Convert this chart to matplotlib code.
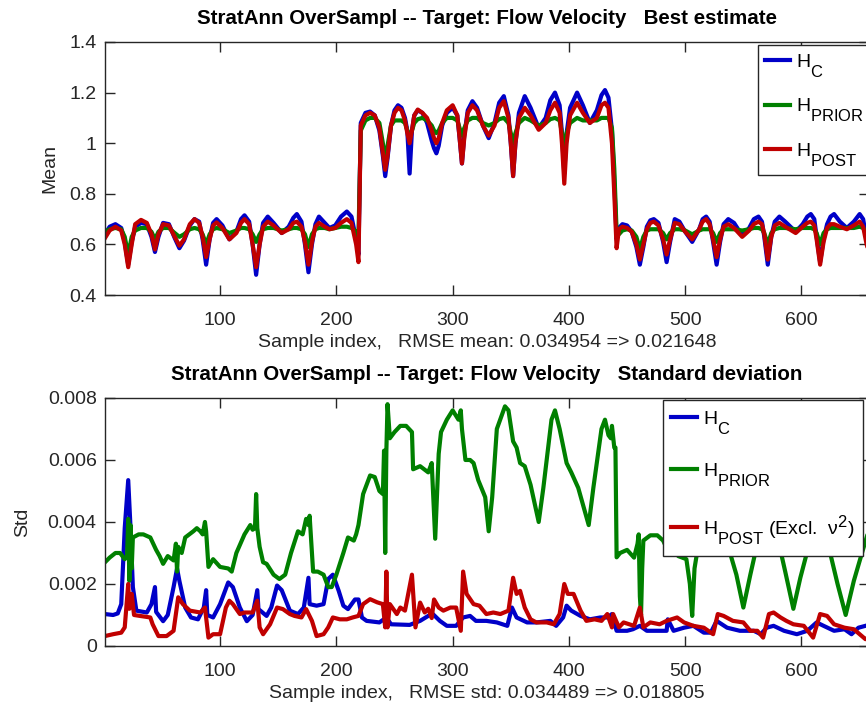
import numpy as np
import matplotlib
matplotlib.use("Agg")
import matplotlib.pyplot as plt
import matplotlib._mathtext as mtext

plt.rcParams['font.family'] = ['Liberation Sans', 'DejaVu Sans']
plt.rcParams['mathtext.fontset'] = 'custom'
plt.rcParams['mathtext.rm'] = 'Liberation Sans'
# larger, lower subscripts for the legend labels
mtext.SHRINK_FACTOR = 0.85
mtext.FontConstantsBase.sub1 = 1.0
mtext.FontConstantsBase.sub2 = 1.2

# ---- mean estimates (top panel) ----
idx_mean = [1, 5, 10, 15, 18, 21, 24, 27, 32, 37, 41, 44, 47, 51, 56, 61, 65, 69, 74, 78,
            82, 85, 88, 91, 94, 97, 102, 108, 114, 118, 121, 125, 128, 131, 134, 137, 141, 146, 153, 159,
            163, 166, 170, 173, 176, 179, 182, 185, 190, 194, 199, 204, 209, 213, 217, 219,
            221, 225, 229, 233, 237, 240, 242, 244, 247, 250, 253, 256, 259, 261, 263, 265, 267, 270,
            274, 278, 282, 284, 286, 288, 291, 295, 300, 304, 306, 308, 310, 313, 317, 321, 326, 331,
            336, 340, 344, 348, 350, 352, 354, 357, 362, 367, 374, 380, 384, 388, 392, 394, 396, 398,
            401, 407, 412, 418, 424, 428, 431, 434, 437, 439, 441,
            443, 446, 450, 454, 458, 461, 464, 467, 470, 473, 477, 481, 484, 487, 491, 495, 500, 506,
            512, 515, 518, 521, 524, 527, 530, 533, 537, 542, 549, 555, 559, 563, 566, 568, 571, 574,
            577, 581, 586, 595, 601, 605, 608, 611, 613, 616, 619, 622, 625, 628, 633, 639, 645, 650,
            653, 656, 660]

mean_c = [0.64, 0.67, 0.68, 0.665, 0.61, 0.52, 0.61, 0.67, 0.685, 0.68, 0.63, 0.57, 0.63, 0.685, 0.68, 0.625, 0.585, 0.615, 0.675, 0.70,
          0.69, 0.62, 0.52, 0.62, 0.685, 0.70, 0.675, 0.62, 0.65, 0.70, 0.715, 0.69, 0.60, 0.48, 0.60, 0.685, 0.71, 0.685, 0.645, 0.67,
          0.705, 0.72, 0.69, 0.60, 0.49, 0.60, 0.68, 0.71, 0.685, 0.665, 0.675, 0.71, 0.73, 0.71, 0.62, 0.56,
          1.08, 1.12, 1.125, 1.11, 1.05, 0.95, 0.87, 0.94, 1.07, 1.13, 1.15, 1.14, 1.10, 1.05, 0.88, 1.05, 1.11, 1.13,
          1.12, 1.08, 1.01, 0.98, 0.96, 0.99, 1.07, 1.12, 1.14, 1.11, 1.02, 0.92, 1.03, 1.13, 1.166, 1.14, 1.07, 1.02,
          1.08, 1.16, 1.186, 1.11, 1.00, 0.87, 1.00, 1.12, 1.186, 1.14, 1.06, 1.10, 1.17, 1.20, 1.15, 1.04, 0.88, 1.04,
          1.14, 1.20, 1.15, 1.08, 1.13, 1.19, 1.21, 1.18, 1.05, 0.85, 0.62,
          0.665, 0.68, 0.675, 0.65, 0.59, 0.52, 0.59, 0.67, 0.695, 0.70, 0.685, 0.61, 0.53, 0.61, 0.70, 0.69, 0.65, 0.61,
          0.66, 0.70, 0.71, 0.69, 0.61, 0.52, 0.61, 0.68, 0.70, 0.685, 0.635, 0.665, 0.70, 0.71, 0.69, 0.63, 0.52, 0.63,
          0.69, 0.71, 0.69, 0.65, 0.68, 0.71, 0.72, 0.70, 0.63, 0.53, 0.62, 0.68, 0.71, 0.72, 0.69, 0.665, 0.69, 0.72,
          0.70, 0.62, 0.55]

mean_prior = [0.65, 0.66, 0.665, 0.66, 0.63, 0.56, 0.63, 0.655, 0.665, 0.665, 0.65, 0.62, 0.65, 0.665, 0.665, 0.645, 0.63, 0.64, 0.66, 0.665,
              0.66, 0.64, 0.60, 0.64, 0.66, 0.665, 0.66, 0.645, 0.655, 0.665, 0.665, 0.66, 0.64, 0.61, 0.64, 0.66, 0.665, 0.665, 0.655, 0.66,
              0.665, 0.665, 0.66, 0.64, 0.59, 0.64, 0.66, 0.665, 0.665, 0.66, 0.665, 0.67, 0.67, 0.665, 0.65, 0.63,
              1.05, 1.09, 1.10, 1.10, 1.08, 1.00, 0.93, 0.99, 1.07, 1.09, 1.09, 1.09, 1.08, 1.05, 1.03, 1.05, 1.08, 1.095,
              1.10, 1.09, 1.07, 1.05, 1.04, 1.05, 1.08, 1.10, 1.10, 1.09, 1.06, 1.03, 1.06, 1.09, 1.10, 1.10, 1.08, 1.07,
              1.08, 1.095, 1.10, 1.08, 1.04, 1.00, 1.04, 1.08, 1.10, 1.09, 1.07, 1.08, 1.095, 1.10, 1.09, 1.04, 0.98, 1.04,
              1.08, 1.10, 1.09, 1.09, 1.09, 1.10, 1.10, 1.10, 1.06, 0.90, 0.65,
              0.64, 0.655, 0.66, 0.655, 0.63, 0.58, 0.63, 0.655, 0.66, 0.66, 0.66, 0.645, 0.62, 0.645, 0.66, 0.66, 0.655, 0.64,
              0.655, 0.66, 0.66, 0.66, 0.645, 0.61, 0.645, 0.66, 0.66, 0.66, 0.655, 0.66, 0.665, 0.665, 0.66, 0.645, 0.60, 0.645,
              0.66, 0.665, 0.665, 0.66, 0.665, 0.665, 0.665, 0.66, 0.645, 0.60, 0.645, 0.66, 0.665, 0.665, 0.665, 0.665, 0.665, 0.67,
              0.665, 0.64, 0.60]

mean_post = [0.625, 0.655, 0.67, 0.655, 0.60, 0.51, 0.60, 0.68, 0.697, 0.685, 0.64, 0.58, 0.64, 0.68, 0.675, 0.63, 0.595, 0.62, 0.68, 0.70,
             0.685, 0.63, 0.55, 0.62, 0.675, 0.687, 0.665, 0.62, 0.645, 0.685, 0.70, 0.68, 0.60, 0.51, 0.60, 0.67, 0.69, 0.675, 0.645, 0.66,
             0.685, 0.69, 0.67, 0.61, 0.52, 0.61, 0.67, 0.685, 0.67, 0.66, 0.665, 0.685, 0.70, 0.685, 0.60, 0.53,
             1.07, 1.11, 1.12, 1.11, 1.06, 0.96, 0.895, 0.95, 1.07, 1.12, 1.14, 1.13, 1.09, 1.04, 1.00, 1.05, 1.11, 1.133,
             1.12, 1.10, 1.05, 1.02, 1.00, 1.02, 1.08, 1.13, 1.15, 1.11, 1.02, 0.92, 1.02, 1.12, 1.15, 1.13, 1.07, 1.03,
             1.07, 1.14, 1.166, 1.10, 1.00, 0.87, 1.00, 1.10, 1.14, 1.11, 1.053, 1.08, 1.13, 1.16, 1.12, 1.00, 0.84, 1.00,
             1.11, 1.16, 1.12, 1.08, 1.10, 1.15, 1.16, 1.14, 1.00, 0.80, 0.585,
             0.66, 0.67, 0.665, 0.65, 0.60, 0.54, 0.60, 0.66, 0.685, 0.69, 0.675, 0.62, 0.56, 0.62, 0.685, 0.68, 0.65, 0.62,
             0.66, 0.69, 0.70, 0.68, 0.62, 0.55, 0.62, 0.67, 0.68, 0.665, 0.63, 0.655, 0.68, 0.69, 0.68, 0.64, 0.54, 0.63,
             0.675, 0.685, 0.67, 0.645, 0.67, 0.685, 0.69, 0.675, 0.62, 0.52, 0.61, 0.665, 0.68, 0.68, 0.67, 0.66, 0.675, 0.69,
             0.67, 0.60, 0.54]

# ---- standard deviations (bottom panel), values in units of 1e-3 ----
idx_std_c = [1, 8, 12, 15, 18, 21, 23, 25, 28, 37, 41, 44, 45, 51, 55, 60, 63, 65, 70, 75, 81, 86, 88, 89, 94, 100,
             107, 111, 117, 123, 128, 132, 133, 140, 144, 149, 153, 160, 167, 172, 176, 177, 183, 189, 193, 197, 202,
             206, 210, 216, 219, 222, 226, 237, 243, 247, 263, 272, 279, 283, 289, 295, 303, 309, 315, 320, 329, 338,
             347, 351, 355, 364, 372, 384, 389, 395, 398, 402, 410, 418, 427, 433, 437, 441, 450, 455, 461, 467, 484,
             485, 490, 499, 507, 516, 522, 527, 536, 547, 559, 565, 570, 576, 585, 596, 605, 613, 619, 628, 637, 643,
             649, 660]
std_c = [1.03, 1.0, 1.05, 1.35, 3.8, 5.35, 3.8, 1.9, 1.14, 1.08, 1.35, 1.9, 1.1, 0.8, 1.0, 1.9, 2.5, 2.1, 1.24, 0.92, 0.86, 1.24, 1.8, 1.0, 0.92, 1.35,
         2.05, 1.9, 1.24, 0.8, 1.0, 1.8, 1.19, 0.97, 1.24, 1.95, 1.8, 1.14, 1.03, 1.24, 2.2, 1.35, 1.3, 1.35, 2.16, 2.3, 1.78,
         1.3, 1.19, 1.5, 1.5, 0.92, 0.81, 0.76, 0.92, 0.70, 0.68, 0.81, 0.97, 1.03, 0.81, 0.65, 0.65, 0.92, 0.97, 0.81, 0.81, 0.76,
         0.65, 1.24, 0.92, 0.76, 0.76, 0.81, 0.65, 0.92, 1.3, 1.14, 0.97, 0.86, 0.92, 0.92, 1.03, 0.49, 0.49, 0.54, 0.65, 0.49, 0.49,
         0.86, 0.49, 0.59, 0.65, 0.43, 0.43, 0.81, 0.59, 0.49, 0.49, 0.38, 0.59, 0.65, 0.49, 0.38, 0.49, 0.76, 0.65, 0.49, 0.54, 0.38,
         0.59, 0.7]

idx_std_prior = [1, 5, 10, 14, 18, 20, 21, 22, 23, 24, 25, 30, 34, 40, 45, 48, 51, 55, 60, 62, 63, 64, 67, 70, 77, 80,
                 83, 85, 87, 88, 90, 94, 100, 107, 110, 114, 121, 126, 128, 130, 131, 132, 134, 137, 140, 146, 151, 156,
                 161, 167, 171, 174, 176, 177, 179, 180, 184, 189, 193, 196, 200, 206, 210, 215, 217, 219, 223, 229, 233,
                 237, 240, 241, 242, 243, 244, 246, 250, 255, 260, 265, 266, 272, 279, 282, 285, 288, 290, 295, 300, 305,
                 307, 308, 311, 315, 318, 322, 328, 331, 334, 338, 345, 348, 352, 355, 358, 362, 367, 374, 378, 385, 388,
                 392, 398, 402, 408, 417, 421, 428, 431, 434, 436, 437, 439, 440, 441, 444, 450, 456, 459, 460, 461, 462,
                 463, 464, 470, 476, 481, 486, 492, 493, 494, 501, 504, 506, 508, 511, 520, 530, 537, 544, 550, 556, 562,
                 570, 580, 586, 593, 599, 606, 615, 624, 631, 638, 645, 652, 660]
std_prior = [2.7, 2.85, 3.0, 3.0, 2.8, 2.9, 4.1, 2.1, 3.9, 2.5, 3.5, 3.6, 3.6, 3.5, 3.1, 2.9, 2.65, 2.9, 2.76, 3.3, 2.4, 3.2, 3.0, 3.5, 3.7, 3.8,
             3.7, 3.6, 4.0, 3.7, 2.55, 2.8, 2.55, 2.5, 2.4, 3.0, 3.6, 3.9, 3.75, 3.8, 4.9, 3.8, 3.2, 2.7, 2.65, 2.3, 2.16, 2.3,
             3.0, 3.7, 3.6, 4.1, 3.9, 4.2, 3.0, 2.4, 2.4, 2.3, 1.9, 1.9, 2.3, 3.0, 3.5, 3.4, 3.6, 3.9, 4.9, 5.5, 5.45,
             5.0, 4.9, 6.3, 3.0, 6.3, 7.8, 6.7, 6.9, 7.1, 7.1, 6.9, 5.7, 5.8, 5.6, 5.9, 3.46, 6.2, 6.9, 7.3, 7.6, 7.3,
             7.6, 7.0, 6.0, 6.0, 5.9, 5.35, 4.8, 3.7, 4.8, 7.0, 7.73, 7.6, 6.6, 6.4, 5.9, 5.8, 5.2, 4.0, 5.1, 7.3, 7.6,
             7.0, 5.9, 5.6, 5.1, 3.9, 5.1, 7.0, 7.3, 6.8, 6.7, 7.1, 6.4, 6.4, 2.86, 3.0, 3.1, 2.85, 3.3, 3.6, 1.6, 1.0,
             2.5, 3.4, 3.57, 3.57, 3.4, 3.0, 3.1, 3.4, 2.9, 2.8, 2.0, 0.97, 2.5, 3.2, 3.6, 3.4, 3.2, 2.3, 1.24, 2.3, 3.3,
             3.6, 3.4, 2.4, 1.2, 2.2, 3.2, 3.6, 3.1, 2.0, 1.0, 2.1, 3.0, 4.0]

idx_std_post = [1, 8, 15, 18, 21, 22, 24, 26, 31, 40, 42, 47, 54, 60, 64, 68, 74, 83, 87, 90, 94, 100, 105, 108, 111,
                117, 121, 128, 132, 134, 137, 143, 149, 154, 160, 164, 170, 174, 179, 183, 189, 193, 197, 203, 209, 214,
                219, 223, 229, 235, 240, 242, 243, 244, 246, 252, 255, 259, 265, 268, 272, 276, 279, 282, 284, 288, 292,
                298, 303, 307, 309, 312, 318, 323, 329, 335, 341, 348, 352, 355, 358, 362, 367, 372, 381, 387, 392, 396,
                399, 404, 410, 415, 422, 428, 433, 437, 438, 443, 447, 456, 461, 464, 470, 478, 484, 493, 499, 507, 516,
                524, 528, 533, 541, 550, 556, 562, 567, 572, 576, 582, 587, 593, 602, 610, 616, 622, 628, 637, 645, 655,
                660]
std_post = [0.32, 0.38, 0.43, 0.6, 2.0, 1.2, 1.68, 1.0, 0.97, 0.92, 0.7, 0.32, 0.32, 0.49, 1.57, 1.35, 1.14, 1.08, 1.24, 0.27, 0.38, 0.38, 1.24, 1.46, 1.35,
            1.03, 1.08, 1.08, 1.46, 0.6, 0.38, 0.7, 1.24, 1.19, 1.03, 0.97, 0.92, 1.19, 0.81, 0.32, 0.38, 0.6, 0.92, 0.86, 0.86, 0.92,
            0.97, 1.35, 1.51, 1.41, 1.35, 0.6, 2.4, 0.6, 1.35, 1.03, 1.24, 1.14, 2.3, 0.6, 1.4, 1.08, 1.2, 0.9, 1.5, 1.24, 1.14,
            1.24, 1.24, 0.49, 2.4, 1.68, 1.35, 1.30, 1.03, 1.08, 1.03, 1.14, 2.2, 1.68, 1.78, 1.24, 0.86, 0.76, 0.76, 0.70, 1.03, 2.0,
            1.68, 1.68, 1.14, 0.81, 0.86, 0.81, 1.03, 0.6, 1.03, 0.6, 0.76, 0.65, 1.24, 0.6, 0.76, 0.70, 0.81, 0.92, 0.76, 0.65, 0.59,
            0.38, 1.03, 0.97, 0.81, 0.76, 0.49, 0.49, 0.27, 1.03, 1.08, 0.92, 0.81, 0.70, 0.65, 0.27, 1.03, 0.97, 0.70, 0.59, 0.54, 0.22,
            0.3]

mean_yticks = [0.4, 0.6, 0.8, 1.0, 1.2, 1.4]
mean_yticklabels = ['0.4', '0.6', '0.8', '1', '1.2', '1.4']
std_yticks = [0, 0.002, 0.004, 0.006, 0.008]
std_yticklabels = ['0', '0.002', '0.004', '0.006', '0.008']
xticks = [100, 200, 300, 400, 500, 600]

blue = '#0000c8'
green = '#008000'
red = '#c00000'
axcol = '#262626'
fs = 14
lw = 3.0


def style_axes(ax):
    for s in ax.spines.values():
        s.set_color(axcol)
        s.set_linewidth(1.0)
    ax.tick_params(direction='in', top=True, right=True, length=7, width=1.0,
                   colors=axcol, labelsize=fs, labelcolor=axcol)
    ax.tick_params(axis='x', pad=12)
    ax.tick_params(axis='y', pad=6)
    ax.set_xlim(1, 658)
    ax.set_xticks(xticks)


fig = plt.figure(figsize=(8.66, 7.07), dpi=100)

# top panel: best estimate
ax1 = fig.add_axes([0.1212, 0.5827, 0.8822, 0.3579])
ax1.plot(idx_mean, mean_c, color=blue, lw=lw, label=r'$\mathregular{H_{C}}$')
ax1.plot(idx_mean, mean_prior, color=green, lw=lw, label=r'$\mathregular{H_{PRIOR}}$')
ax1.plot(idx_mean, mean_post, color=red, lw=lw, label=r'$\mathregular{H_{POST}}$')
style_axes(ax1)
ax1.set_ylim(0.4, 1.4)
ax1.set_yticks(mean_yticks)
ax1.set_yticklabels(mean_yticklabels)
ax1.set_ylabel('Mean', fontsize=fs, color=axcol, labelpad=8)
ax1.set_xlabel('Sample index,   RMSE mean: 0.034954 => 0.021648', fontsize=fs, color=axcol, labelpad=4)
ax1.set_title('StratAnn OverSampl -- Target: Flow Velocity   Best estimate',
              fontsize=14.8, fontweight='bold', pad=13)
leg1 = ax1.legend(loc='upper left', bbox_to_anchor=(0.855, 0.988), fontsize=fs,
                  handlelength=1.3, handletextpad=0.3, labelspacing=0.9, borderaxespad=0,
                  fancybox=False, framealpha=1, edgecolor=axcol, borderpad=0.35)
leg1.get_frame().set_linewidth(1.0)

# bottom panel: standard deviation
ax2 = fig.add_axes([0.1212, 0.0863, 0.8822, 0.3508])
ax2.plot(idx_std_c, np.array(std_c) * 1e-3, color=blue, lw=lw, label=r'$\mathregular{H_{C}}$')
ax2.plot(idx_std_prior, np.array(std_prior) * 1e-3, color=green, lw=lw, label=r'$\mathregular{H_{PRIOR}}$')
ax2.plot(idx_std_post, np.array(std_post) * 1e-3, color=red, lw=lw,
         label=r'$\mathregular{H_{POST}}$ (Excl.  $\mathregular{ν^2}$)')
style_axes(ax2)
ax2.set_ylim(0, 0.008)
ax2.set_yticks(std_yticks)
ax2.set_yticklabels(std_yticklabels)
ax2.set_ylabel('Std', fontsize=fs, color=axcol, labelpad=12)
ax2.set_xlabel('Sample index,   RMSE std: 0.034489 => 0.018805', fontsize=fs, color=axcol, labelpad=4)
ax2.set_title('StratAnn OverSampl -- Target: Flow Velocity   Standard deviation',
              fontsize=14.8, fontweight='bold', pad=13)
leg2 = ax2.legend(loc='upper left', bbox_to_anchor=(0.730, 0.992), fontsize=fs,
                  handlelength=1.3, handletextpad=0.3, labelspacing=1.3, borderaxespad=0,
                  fancybox=False, framealpha=1, edgecolor=axcol, borderpad=0.45)
leg2.get_frame().set_linewidth(1.0)

fig.savefig('out.png', dpi=100)
